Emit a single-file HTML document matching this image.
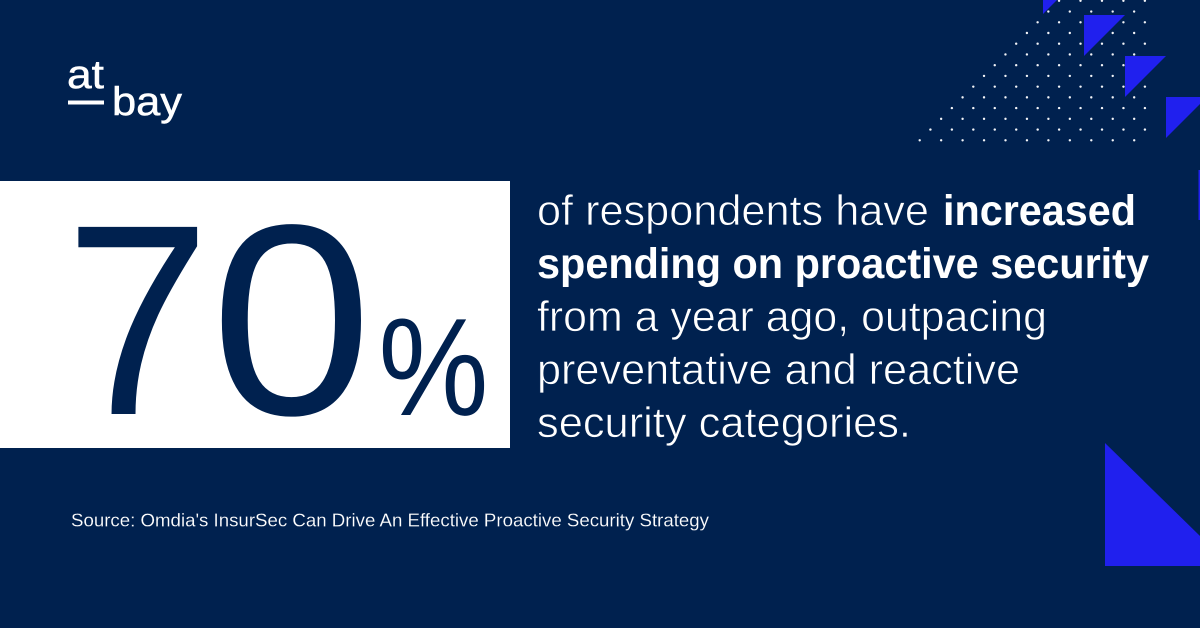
<!DOCTYPE html>
<html lang="en">
<head>
<meta charset="utf-8">
<title>At-Bay 70% statistic</title>
<style>
html,body{margin:0;padding:0;width:1200px;height:628px;overflow:hidden;background:#00214f}
svg{display:block}
text{font-family:"Liberation Sans",sans-serif}
.body-text{font-size:43px;fill:#fff}
.thin{stroke:#00214f;stroke-width:.7px}
.bold{font-weight:700}
.logo-text{stroke:#fff;stroke-width:.5px}
</style>
</head>
<body>
<svg id="card" width="1200" height="628" viewBox="0 0 1200 628" xmlns="http://www.w3.org/2000/svg">
  <rect width="1200" height="628" fill="#00214f"/>

  <g fill="#fff">
    <text class="logo-text" x="67" y="88" font-size="40" textLength="37" lengthAdjust="spacingAndGlyphs">at</text>
    <rect x="68" y="100.5" width="36" height="4"/>
    <text class="logo-text" x="112" y="115" font-size="40" textLength="70" lengthAdjust="spacingAndGlyphs">bay</text>
  </g>

  <g id="dots" fill="#f2f4f8"></g>

  <g fill="#2020ee">
    <polygon points="1043,0 1057,0 1043,14"/>
    <polygon points="1084,15 1125,15 1084,56"/>
    <polygon points="1125,56 1166,56 1125,97"/>
    <polygon points="1166,97 1207,97 1166,138"/>
    <rect x="1198.5" y="170" width="1.5" height="50"/>
    <polygon points="1105,443 1200,536 1200,566 1105,566"/>
  </g>

  <rect x="0" y="181" width="510" height="267" fill="#fff"/>
  <text transform="translate(65,414) scale(.96,1)" font-size="272" fill="#00214f">7</text>
  <text transform="translate(210.5,414) scale(1.07,1)" font-size="272" fill="#00214f">0</text>
  <text transform="translate(378.5,415) scale(.89,1)" font-size="139" fill="#00214f">%</text>

  <g>
    <text class="body-text thin" x="537" y="225" textLength="392" lengthAdjust="spacingAndGlyphs">of respondents have</text>
    <text class="body-text bold" x="943" y="225" textLength="193" lengthAdjust="spacingAndGlyphs">increased</text>
    <text class="body-text bold" x="537" y="278" textLength="612" lengthAdjust="spacingAndGlyphs">spending on proactive security</text>
    <text class="body-text thin" x="537" y="331" textLength="510" lengthAdjust="spacingAndGlyphs">from a year ago, outpacing</text>
    <text class="body-text thin" x="537" y="384" textLength="483" lengthAdjust="spacingAndGlyphs">preventative and reactive</text>
    <text class="body-text thin" x="537" y="437" textLength="374" lengthAdjust="spacingAndGlyphs">security categories.</text>
  </g>

  <text x="71" y="526.5" font-size="18.5" fill="#fff" stroke="#00214f" stroke-width=".15" textLength="638" lengthAdjust="spacingAndGlyphs">Source: Omdia's InsurSec Can Drive An Effective Proactive Security Strategy</text>
</svg>
<script>
var NS = 'http://www.w3.org/2000/svg';
var dots = document.getElementById('dots');
var rows = 14, stepX = 21.45, stepY = 10.73;
for (var k = 0; k < rows; k++) {
  var y = 140.3 - k * stepY;
  var right = k % 2 ? 1145 : 1134;
  for (var x = 919.7 + k * 10.72; x < right + 2; x += stepX) {
    var c = document.createElementNS(NS, 'circle');
    c.setAttribute('cx', x.toFixed(2));
    c.setAttribute('cy', y.toFixed(2));
    c.setAttribute('r', '1.2');
    
    
    dots.appendChild(c);
  }
}
</script>
</body>
</html>
